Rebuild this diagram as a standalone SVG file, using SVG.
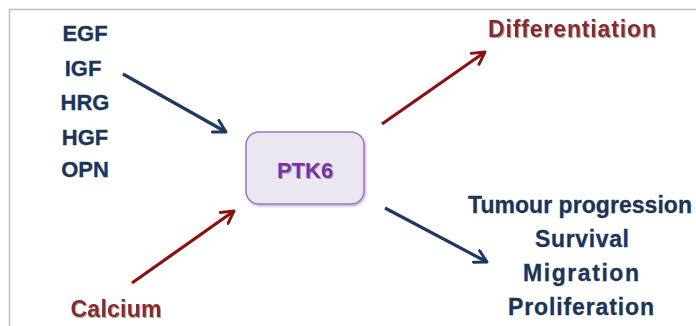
<svg xmlns="http://www.w3.org/2000/svg" width="696" height="326" viewBox="0 0 696 326">
<defs>
<style>
.navy{font-family:"Liberation Sans",Arial,sans-serif;font-weight:bold;font-size:22px;fill:#1b3558;stroke:#1b3558;stroke-width:0.3;text-anchor:middle}
.out{font-size:23px}
.red{font-family:"Liberation Sans",Arial,sans-serif;font-weight:bold;font-size:23px;fill:#8a2a2a;text-anchor:middle}
.an{stroke:#1f3a60;stroke-width:3.2;fill:none}
.ar{stroke:#8b1111;stroke-width:3.2;fill:none}
</style>
<marker id="hn" viewBox="0 0 12 12" refX="10" refY="6" markerWidth="5" markerHeight="5" orient="auto" markerUnits="strokeWidth">
<path d="M1,1 L10,6 L1,11" fill="none" stroke="#1f3a60" stroke-width="2.2" stroke-linecap="round" stroke-linejoin="round"/>
</marker>
<marker id="hr" viewBox="0 0 12 12" refX="10" refY="6" markerWidth="5" markerHeight="5" orient="auto" markerUnits="strokeWidth">
<path d="M1,1 L10,6 L1,11" fill="none" stroke="#8b1111" stroke-width="2.2" stroke-linecap="round" stroke-linejoin="round"/>
</marker>
<filter id="sh" x="-10%" y="-10%" width="130%" height="140%">
<feDropShadow dx="1" dy="1.5" stdDeviation="1" flood-color="#000" flood-opacity="0.3"/>
</filter>
<filter id="ts" x="-5%" y="-20%" width="110%" height="150%">
<feDropShadow dx="1" dy="1" stdDeviation="0.6" flood-color="#000" flood-opacity="0.35"/>
</filter>
</defs>
<rect x="9.5" y="9.5" width="700" height="330" fill="#ffffff" stroke="#bdbdbd" stroke-width="1.5"/>
<g id="connectors">
<line class="an" x1="123" y1="74" x2="226" y2="132" marker-end="url(#hn)"/>
<line class="ar" x1="132" y1="283" x2="234" y2="211" marker-end="url(#hr)"/>
<line class="ar" x1="382" y1="124" x2="485" y2="52" marker-end="url(#hr)"/>
<line class="an" x1="385" y1="208" x2="487" y2="262" marker-end="url(#hn)"/>
</g>
<g id="inputs">
<text class="navy" x="85" y="41">EGF</text>
<text class="navy" x="83" y="76">IGF</text>
<text class="navy" x="85" y="110">HRG</text>
<text class="navy" x="85" y="145">HGF</text>
<text class="navy" x="85" y="177">OPN</text>
</g>
<g id="ptk6">
<rect x="246" y="132" width="118" height="72" rx="13" fill="#ebe7f0" stroke="#a66fd0" stroke-width="1.5" filter="url(#sh)"/>
<text x="305" y="178" font-family="'Liberation Sans',Arial,sans-serif" font-weight="bold" font-size="22" fill="#7a2fa8" text-anchor="middle" filter="url(#ts)">PTK6</text>
</g>
<g id="calcium">
<text class="red" x="116" y="317" textLength="91" filter="url(#ts)">Calcium</text>
</g>
<g id="differentiation">
<text class="red" x="572" y="37" textLength="168" filter="url(#ts)">Differentiation</text>
</g>
<g id="outputs">
<text class="navy out" x="580" y="213" textLength="224">Tumour progression</text>
<text class="navy out" x="582" y="247" textLength="94">Survival</text>
<text class="navy out" x="581" y="281" textLength="116">Migration</text>
<text class="navy out" x="581" y="315" textLength="146">Proliferation</text>
</g>
</svg>
